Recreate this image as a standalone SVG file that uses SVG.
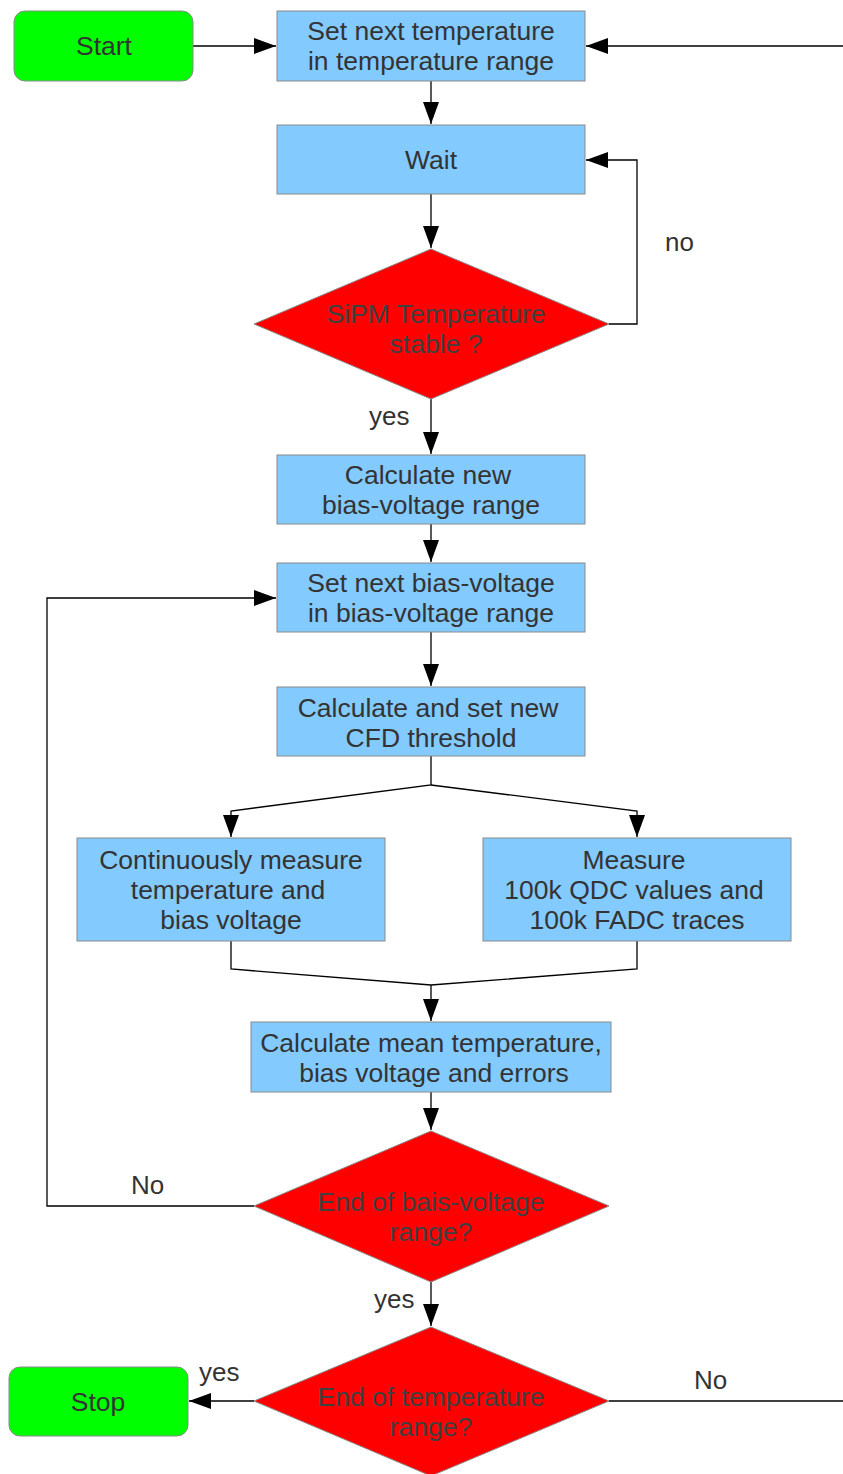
<svg xmlns="http://www.w3.org/2000/svg" width="843" height="1474" viewBox="0 0 843 1474">
<style>
.box{fill:#83caff;stroke:#8a8a8a;stroke-width:1}
.term{fill:#00ff00;stroke:#8a8a8a;stroke-width:1}
.dia{fill:#ff0000;stroke:#8a8a8a;stroke-width:1}
.t{font-family:"Liberation Sans",Arial,sans-serif;font-size:26.5px;fill:#333333;text-anchor:middle}
.dt{font-family:"Liberation Sans",Arial,sans-serif;font-size:26.5px;fill:#404040;text-anchor:middle}
.lbl{font-family:"Liberation Sans",Arial,sans-serif;font-size:26px;fill:#333333}
.c{fill:none;stroke:#000;stroke-width:1.3}
</style>
<defs>
<marker id="ah" markerUnits="userSpaceOnUse" markerWidth="24" markerHeight="16" refX="22" refY="8" orient="auto">
<path d="M0,0 L22,8 L0,16 Z" fill="#000"/>
</marker>
</defs>
<rect width="843" height="1474" fill="#fff"/>
<g id="connectors">
<line class="c" x1="193" y1="46" x2="276" y2="46" marker-end="url(#ah)"/>
<line class="c" x1="843" y1="46" x2="586" y2="46" marker-end="url(#ah)"/>
<line class="c" x1="431" y1="81" x2="431" y2="124" marker-end="url(#ah)"/>
<line class="c" x1="431" y1="194" x2="431" y2="248" marker-end="url(#ah)"/>
<polyline class="c" points="609,324 637,324 637,160 586,160" marker-end="url(#ah)"/>
<line class="c" x1="431" y1="399" x2="431" y2="454" marker-end="url(#ah)"/>
<line class="c" x1="431" y1="524" x2="431" y2="562" marker-end="url(#ah)"/>
<line class="c" x1="431" y1="632" x2="431" y2="686" marker-end="url(#ah)"/>
<polyline class="c" points="431,756 431,785 231,811 231,837" marker-end="url(#ah)"/>
<polyline class="c" points="431,785 637,811 637,837" marker-end="url(#ah)"/>
<polyline class="c" points="231,941 231,969 431,985"/>
<polyline class="c" points="637,941 637,969 431,985"/>
<line class="c" x1="431" y1="985" x2="431" y2="1021" marker-end="url(#ah)"/>
<line class="c" x1="431" y1="1092" x2="431" y2="1130" marker-end="url(#ah)"/>
<polyline class="c" points="254,1206 47,1206 47,598 276,598" marker-end="url(#ah)"/>
<line class="c" x1="431" y1="1282" x2="431" y2="1326" marker-end="url(#ah)"/>
<line class="c" x1="254" y1="1401" x2="189" y2="1401" marker-end="url(#ah)"/>
<line class="c" x1="609" y1="1401" x2="843" y2="1401"/>
<text class="lbl" x="665" y="251">no</text>
<text class="lbl" x="369" y="425">yes</text>
<text class="lbl" x="131" y="1194">No</text>
<text class="lbl" x="374" y="1308">yes</text>
<text class="lbl" x="199" y="1381">yes</text>
<text class="lbl" x="694" y="1389">No</text>
</g>
<g id="start">
<rect class="term" x="14" y="11" width="179" height="70" rx="11"/>
<text class="t" x="104" y="55">Start</text>
</g>
<g id="set-temp">
<rect class="box" x="277" y="11" width="308" height="70"/>
<text class="t" x="431" y="40">Set next temperature</text>
<text class="t" x="431" y="70">in temperature range</text>
</g>
<g id="wait">
<rect class="box" x="277" y="125" width="308" height="69"/>
<text class="t" x="431" y="169">Wait</text>
</g>
<g id="temp-stable">
<polygon class="dia" points="431,249 609,324 431,399 254,324"/>
<text class="dt" x="436" y="323">SiPM Temperature</text>
<text class="dt" x="436" y="353">stable ?</text>
</g>
<g id="calc-bias-range">
<rect class="box" x="277" y="455" width="308" height="69"/>
<text class="t" x="428" y="484">Calculate new</text>
<text class="t" x="431" y="514">bias-voltage range</text>
</g>
<g id="set-bias">
<rect class="box" x="277" y="563" width="308" height="69"/>
<text class="t" x="431" y="592">Set next bias-voltage</text>
<text class="t" x="431" y="622">in bias-voltage range</text>
</g>
<g id="cfd">
<rect class="box" x="277" y="687" width="308" height="69"/>
<text class="t" x="428" y="717">Calculate and set new</text>
<text class="t" x="431" y="747">CFD threshold</text>
</g>
<g id="measure-temp">
<rect class="box" x="77" y="838" width="308" height="103"/>
<text class="t" x="231" y="869">Continuously measure</text>
<text class="t" x="228" y="899">temperature and</text>
<text class="t" x="231" y="929">bias voltage</text>
</g>
<g id="measure-qdc">
<rect class="box" x="483" y="838" width="308" height="103"/>
<text class="t" x="634" y="869">Measure</text>
<text class="t" x="634" y="899">100k QDC values and</text>
<text class="t" x="637" y="929">100k FADC traces</text>
</g>
<g id="calc-mean">
<rect class="box" x="251" y="1022" width="360" height="70"/>
<text class="t" x="431" y="1052">Calculate mean temperature,</text>
<text class="t" x="434" y="1082">bias voltage and errors</text>
</g>
<g id="end-bias">
<polygon class="dia" points="431,1131 609,1206 431,1282 254,1206"/>
<text class="dt" x="431" y="1211">End of bais-voltage</text>
<text class="dt" x="431" y="1241">range?</text>
</g>
<g id="end-temp">
<polygon class="dia" points="431,1327 609,1401 431,1476 254,1401"/>
<text class="dt" x="431" y="1406">End of temperature</text>
<text class="dt" x="431" y="1436">range?</text>
</g>
<g id="stop">
<rect class="term" x="9" y="1367" width="179" height="69" rx="11"/>
<text class="t" x="98" y="1411">Stop</text>
</g>
</svg>
